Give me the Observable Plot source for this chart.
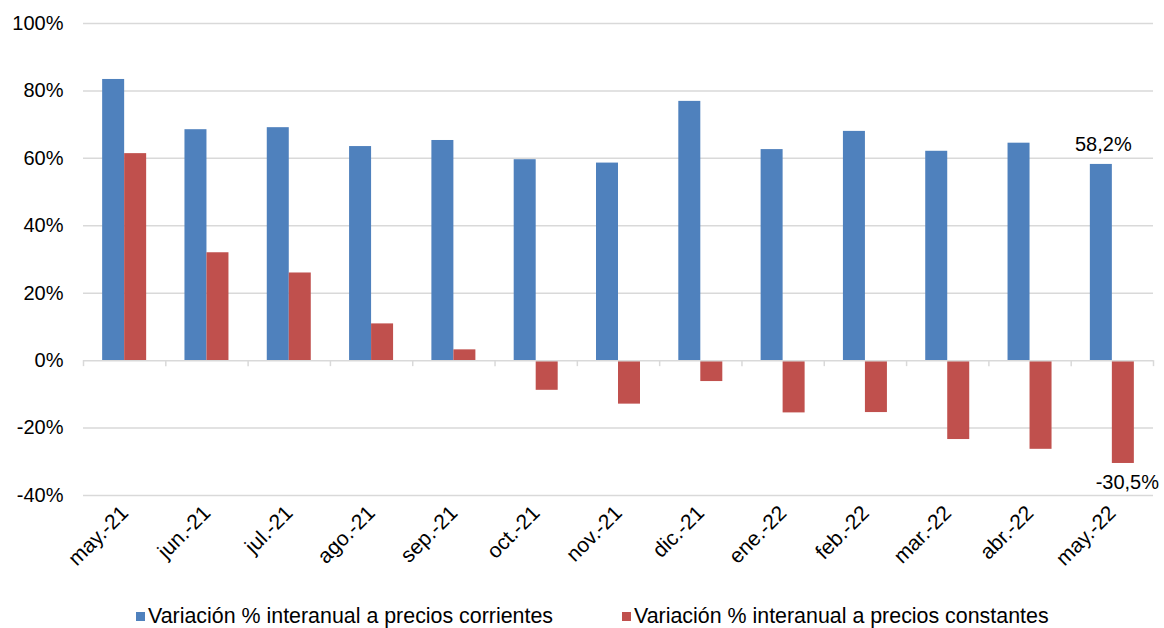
<!DOCTYPE html>
<html><head><meta charset="utf-8">
<script src="https://cdn.jsdelivr.net/npm/d3@7"></script>
<script src="https://cdn.jsdelivr.net/npm/@observablehq/plot@0.6"></script>
<style>
body{margin:0;background:#fff;font-family:"Liberation Sans",Arial,sans-serif;}
#chart{position:relative;width:1164px;height:628px;overflow:hidden;}
.legend{position:absolute;top:605px;left:0;width:1164px;height:23px;font-size:21.4px;color:#000;}
.item{position:absolute;top:0;display:flex;align-items:center;white-space:nowrap;line-height:23px;}
.sw{width:9px;height:9px;margin-right:3px;}
</style></head><body><div id="chart"></div>
<script>
const months = ["may.-21","jun.-21","jul.-21","ago.-21","sep.-21","oct.-21","nov.-21","dic.-21","ene.-22","feb.-22","mar.-22","abr.-22","may.-22"];
const corrientes = [83.4, 68.5, 69.1, 63.5, 65.3, 59.6, 58.6, 76.9, 62.6, 68.0, 62.1, 64.5, 58.2];
const constantes = [61.4, 32.0, 26.0, 10.9, 3.2, -8.8, -12.9, -6.2, -15.5, -15.4, -23.4, -26.3, -30.5];
const seriesNames = ["Variación % interanual a precios corrientes", "Variación % interanual a precios constantes"];
const colors = ["#4F81BD", "#C0504D"];
const yTicks = [-40, -20, 0, 20, 40, 60, 80, 100];

const W = 1164, H = 595, ML = 83, MR = 11, MT = 23, MB = 100;
const bw = (W - ML - MR) / months.length;
const barW = 22;
const sideInset = bw / 2 - barW;

const dataC = months.map((m, i) => ({month: m, value: corrientes[i]}));
const dataK = months.map((m, i) => ({month: m, value: constantes[i]}));
const fmt = v => v.toFixed(1).replace(".", ",") + "%";
const lastC = [dataC[dataC.length - 1]];
const lastK = [dataK[dataK.length - 1]];

const grid = "#d9d9d9";
const plot = Plot.plot({
  width: W, height: H,
  marginLeft: ML, marginRight: MR, marginTop: MT, marginBottom: MB,
  style: {fontFamily: '"Liberation Sans", Arial, sans-serif', fontSize: "20px", color: "#000", background: "#fff"},
  x: {type: "band", domain: months, padding: 0, round: false, label: null},
  y: {domain: [-40, 100], label: null},
  marks: [
    Plot.ruleY(yTicks.filter(d => d !== 0), {stroke: grid, strokeWidth: 1.5}),
    Plot.barY(dataC, {x: "month", y: "value", fill: colors[0], insetLeft: sideInset, insetRight: bw / 2}),
    Plot.barY(dataK, {x: "month", y: "value", fill: colors[1], insetLeft: bw / 2, insetRight: sideInset}),
    Plot.ruleY([0], {stroke: grid, strokeWidth: 1.5}),
    Plot.ruleX(months, {x: d => d, y1: 0, y2: 0, insetBottom: -6, dx: -bw / 2, stroke: grid, strokeWidth: 1.5}),
    Plot.ruleX(months.slice(-1), {x: d => d, y1: 0, y2: 0, insetBottom: -6, dx: bw / 2, stroke: grid, strokeWidth: 1.5}),
    Plot.axisY({ticks: yTicks, tickFormat: d => d + "%", tickSize: 0, tickPadding: 20, fontSize: 20, label: null}),
    Plot.axisX({tickSize: 0, tickPadding: 14, tickRotate: -45, fontSize: 21, label: null}),
    Plot.text(lastC, {x: "month", y: "value", text: d => fmt(d.value), dx: -9, dy: -20, fontSize: 20}),
    Plot.text(lastK, {x: "month", y: "value", text: d => fmt(d.value), dx: 15, dy: 19, fontSize: 20})
  ]
});
const chart = document.getElementById("chart");
chart.appendChild(plot);
const legend = document.createElement("div");
legend.className = "legend";
const lefts = [136, 622];
seriesNames.forEach((name, i) => {
  const it = document.createElement("div");
  it.className = "item";
  it.style.left = lefts[i] + "px";
  const sw = document.createElement("span");
  sw.className = "sw";
  sw.style.background = colors[i];
  const tx = document.createElement("span");
  tx.textContent = name;
  it.appendChild(sw); it.appendChild(tx);
  legend.appendChild(it);
});
chart.appendChild(legend);
</script></body></html>
